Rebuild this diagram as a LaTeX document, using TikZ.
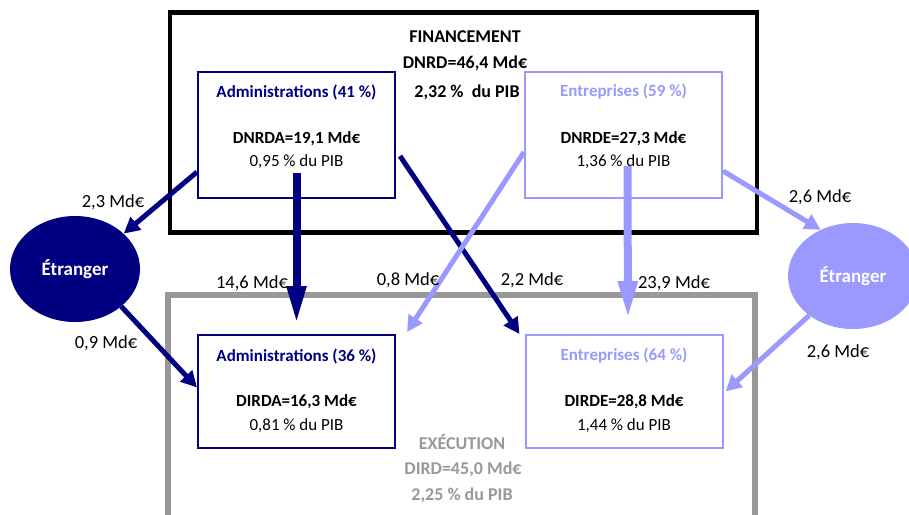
\documentclass[tikz,border=0pt]{standalone}
\usepackage{fontspec}
\setmainfont{Carlito}
\usetikzlibrary{positioning,arrows.meta,shapes.geometric}
\definecolor{navyA}{RGB}{0,0,128}
\definecolor{lilasE}{RGB}{153,153,255}
\definecolor{grisX}{RGB}{152,152,152}
\begin{document}
\begin{tikzpicture}[x=1pt,y=-1pt,
  box/.style={draw,line width=2pt,fill=white,minimum width=197pt,inner sep=0pt},
  frame/.style={draw,line width=4.5pt,inner sep=0pt},
  etr/.style={ellipse,minimum width=130pt,minimum height=106pt,inner sep=0pt,
    text=white,font=\fontsize{19}{22}\selectfont\bfseries},
  ttl/.style={font=\fontsize{17}{20}\selectfont\bfseries},
  val/.style={font=\fontsize{17}{20}\selectfont},
  big/.style={font=\fontsize{18}{21}\selectfont\bfseries},
  lbl/.style={font=\fontsize{18.5}{22}\selectfont},
  thin/.style={line width=5pt,-{Triangle[length=16pt,width=16pt]}},
  fat/.style={line width=8pt,-{Triangle[length=38pt,width=18pt]}}]
\useasboundingbox (0,0) rectangle (909,514);
\clip (0,0) rectangle (909,514);
\node[frame,minimum width=587pt,minimum height=220pt] (finFrame) at (463.5,122.25) {};
\node[frame,draw=grisX,line width=5.5pt,minimum width=587pt,minimum height=320pt] (exeFrame) at (461.5,455) {};
\node[big] (finT) at (465,37) {FINANCEMENT};
\node[big] (finV) at (465,63) {DNRD=46,4 Md€};
\node[big] (finP) at (467,92) {2,32 \%\ \ du PIB};
\node[big,text=grisX] (exeT) at (462,442) {EXÉCUTION};
\node[big,text=grisX] (exeV) at (463,469) {DIRD=45,0 Md€};
\node[big,text=grisX] (exeP) at (462,495) {2,25 \% du PIB};
\node[box,draw=navyA,minimum height=126pt] (adminF) at (296.5,135) {};
\node[box,draw=lilasE,minimum height=126pt] (entrF) at (623.5,135) {};
\node[box,draw=navyA,minimum height=113pt] (adminX) at (296.5,391.5) {};
\node[box,draw=lilasE,minimum height=113pt] (entrX) at (624,391.5) {};
\node[ttl,text=navyA] (adminFt) at ([yshift=-21pt]adminF.north) {Administrations (41 \%)};
\node[ttl] (adminFv) at ([yshift=-68pt]adminF.north) {DNRDA=19,1 Md€};
\node[val] (adminFp) at ([yshift=-91pt]adminF.north) {0,95 \% du PIB};
\node[ttl,text=lilasE] (entrFt) at ([yshift=-21pt]entrF.north) {Entreprises (59 \%)};
\node[ttl] (entrFv) at ([yshift=-68pt]entrF.north) {DNRDE=27,3 Md€};
\node[val] (entrFp) at ([yshift=-91pt]entrF.north) {1,36 \% du PIB};
\node[ttl,text=navyA] (adminXt) at ([yshift=-22pt]adminX.north) {Administrations (36 \%)};
\node[ttl] (adminXv) at ([yshift=-68pt]adminX.north) {DIRDA=16,3 Md€};
\node[val] (adminXp) at ([yshift=-92pt]adminX.north) {0,81 \% du PIB};
\node[ttl,text=lilasE] (entrXt) at ([yshift=-22pt]entrX.north) {Entreprises (64 \%)};
\node[ttl] (entrXv) at ([yshift=-68pt]entrX.north) {DIRDE=28,8 Md€};
\node[val] (entrXp) at ([yshift=-92pt]entrX.north) {1,44 \% du PIB};
\node[etr,fill=navyA] (etrG) at (75,269) {Étranger};
\node[etr,fill=lilasE] (etrD) at (853,276) {Étranger};
\draw[thin,navyA] ([yshift=-37pt]adminF.west) -- (etrG.36);
\draw[fat,navyA,shorten >=10pt] ([yshift=-38pt]adminF.center) -- (adminX.north);
\draw[thin,navyA] ([xshift=4pt,yshift=-21pt]adminF.east) -- ([xshift=-5pt]entrX.north west);
\draw[thin,navyA] (etrG.-39) -- ([yshift=4pt]adminX.west);
\draw[thin,lilasE] ([yshift=-17pt]entrF.west) -- ([xshift=11pt,yshift=2pt]adminX.north east);
\draw[fat,lilasE,shorten >=15pt] ([xshift=4pt,yshift=-31pt]entrF.center) -- ([xshift=4pt]entrX.north);
\draw[thin,lilasE] ([yshift=-36pt]entrF.east) -- (etrD.125);
\draw[thin,lilasE] (etrD.222) -- ([xshift=2pt]entrX.east);
\node[lbl] (l1) at (113,202) {2,3 Md€};
\node[lbl] (l2) at (252,283) {14,6 Md€};
\node[lbl] (l3) at (532,280) {2,2 Md€};
\node[lbl] (l4) at (106,343) {0,9 Md€};
\node[lbl] (l5) at (408,280) {0,8 Md€};
\node[lbl] (l6) at (674,283) {23,9 Md€};
\node[lbl] (l7) at (820,197) {2,6 Md€};
\node[lbl] (l8) at (838,352) {2,6 Md€};
\end{tikzpicture}
\end{document}
